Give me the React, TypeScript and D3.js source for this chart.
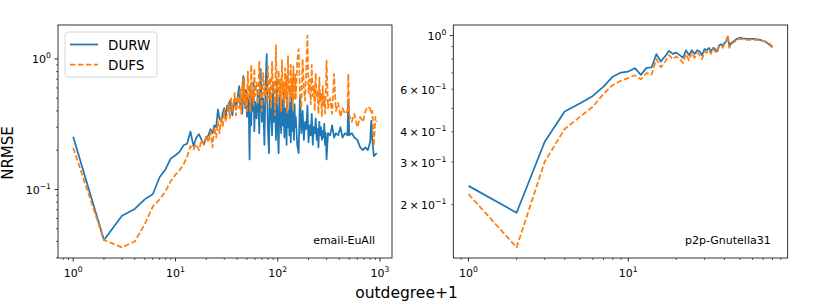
import React from "react";
import * as d3 from "d3";

const W = 814;
const H = 305;
const BLUE = "#1f77b4";
const ORANGE = "#ff7f0e";
const FONT = "'DejaVu Sans', sans-serif";
const LW = 1.75;

// email-EuAll: outdegree+1 and NRMSE per method
const emailDeg = [
  1, 2, 3, 4, 5, 6, 7, 8, 9, 10, 11, 12, 13, 14, 15, 16, 17, 18, 19, 20,
  21, 22, 23, 24, 25, 26, 27, 28, 29, 30, 31, 32, 33, 34, 35, 36, 37, 38, 39, 40,
  41, 42, 43, 44, 45, 46, 47, 48, 49, 50, 51, 52, 53, 54, 55, 56, 57, 58, 59, 60,
  62, 64, 66, 68, 70, 72, 74, 76, 78, 80, 82, 84, 86, 88, 90, 92, 94, 96, 98, 100,
  102, 104, 106, 108, 110, 112, 114, 116, 118, 120, 122, 124, 126, 128, 130, 132, 134, 136, 138, 140,
  142, 144, 146, 148, 150, 155, 160, 165, 170, 175, 180, 185, 190, 195, 200,
  205, 210, 215, 220, 225, 230, 235, 240, 245, 250, 255, 260, 265, 270, 275, 280, 285, 290, 295, 300,
  310, 325, 340, 355, 370, 390, 410, 430, 455, 480, 490, 500, 530, 560, 600, 640, 680, 720, 760, 800,
  820, 840, 870, 900, 930,
];
const emailDURW = [
  0.254, 0.041, 0.063, 0.071, 0.084, 0.092, 0.124, 0.143, 0.173, 0.183,
  0.195, 0.218, 0.224, 0.278, 0.215, 0.25, 0.265, 0.24, 0.222, 0.25,
  0.26, 0.29, 0.27, 0.31, 0.3, 0.41, 0.345, 0.33, 0.39, 0.42,
  0.36, 0.44, 0.4, 0.48, 0.42, 0.37, 0.45, 0.5, 0.41, 0.47,
  0.55, 0.62, 0.44, 0.5, 0.38, 0.74, 0.48, 0.42, 0.58, 0.36,
  0.52, 0.45, 0.17, 0.62, 0.31, 0.55, 0.4, 0.66, 0.28, 0.47,
  0.35, 0.58, 0.27, 0.84, 0.33, 0.5, 0.22, 0.61, 1.09, 0.3,
  0.19, 0.55, 0.38, 0.26, 0.62, 0.33, 0.45, 0.24, 0.7, 0.29,
  0.19, 0.52, 0.36, 0.27, 0.48, 0.31, 0.58, 0.25, 0.42, 0.33,
  0.22, 0.55, 0.3, 0.4, 0.26, 0.47, 0.23, 0.35, 0.6, 0.28,
  0.38, 0.24, 0.45, 0.3, 0.36,
  0.22, 0.19, 0.52, 0.27, 0.4, 0.24, 0.33, 0.29, 0.44, 0.23,
  0.31, 0.26, 0.38, 0.22, 0.3, 0.27, 0.35, 0.24, 0.29, 0.21,
  0.33, 0.26, 0.3, 0.24, 0.28, 0.25, 0.32, 0.22, 0.27, 0.17,
  0.27, 0.26, 0.31, 0.25, 0.27, 0.26, 0.3, 0.25, 0.27, 0.26,
  0.49, 0.26, 0.27, 0.25, 0.24, 0.21, 0.2, 0.21, 0.2, 0.23,
  0.335, 0.24, 0.18, 0.185, 0.19,
];
const emailDUFS = [
  0.209, 0.041, 0.036, 0.04, 0.054, 0.074, 0.084, 0.097, 0.116, 0.13,
  0.141, 0.156, 0.178, 0.215, 0.203, 0.222, 0.2, 0.24, 0.22, 0.26,
  0.23, 0.28, 0.21, 0.3, 0.25, 0.33, 0.27, 0.36, 0.3, 0.41,
  0.33, 0.38, 0.46, 0.35, 0.5, 0.4, 0.44, 0.55, 0.37, 0.48,
  0.52, 0.42, 0.6, 0.38, 0.66, 0.47, 0.72, 0.43, 0.55, 0.4,
  0.8, 0.48, 0.62, 0.39, 0.9, 0.5, 0.58, 0.44, 0.85, 0.52,
  0.66, 0.45, 0.95, 0.55, 0.4, 0.78, 0.52, 0.63, 0.46, 0.88,
  0.5, 0.72, 0.42, 0.95, 0.55, 0.68, 0.37, 1.27, 0.6, 0.45,
  0.82, 0.52, 0.7, 0.4, 0.98, 0.56, 0.65, 0.43, 0.85, 0.5,
  0.75, 0.38, 1.05, 0.55, 0.62, 0.47, 0.9, 0.52, 0.7, 0.41,
  0.88, 0.58, 0.48, 0.76, 0.5,
  0.96, 1.19, 0.55, 0.42, 1.0, 0.6, 0.48, 0.85, 1.51, 0.55,
  0.7, 0.45, 0.9, 0.52, 0.63, 0.4, 0.78, 0.5, 0.58, 0.38,
  0.72, 0.47, 0.55, 0.36, 0.62, 0.44, 0.52, 0.38, 0.58, 0.97,
  0.42, 0.5, 0.38, 0.77, 0.4, 0.46, 0.36, 0.42, 0.38, 0.4,
  0.77, 0.37, 0.33, 0.38, 0.3, 0.36, 0.33, 0.4, 0.43, 0.42,
  0.38, 0.4, 0.215, 0.36, 0.33,
];

// p2p-Gnutella31
const p2pDeg = [
  1, 2, 3, 4, 5, 6, 7, 8, 9, 10, 11, 12, 13, 14, 15, 16, 17, 18, 19, 20,
  21, 22, 23, 24, 25, 26, 27, 28, 29, 30, 31, 32, 33, 34, 35, 36, 37, 38, 39, 40,
  41, 42, 43, 44, 46, 48, 50, 52, 55, 58, 61, 64, 67, 70, 73, 76, 80,
];
const p2pDURW = [
  0.239, 0.185, 0.364, 0.485, 0.525, 0.563, 0.615, 0.676, 0.703, 0.71,
  0.733, 0.688, 0.735, 0.738, 0.838, 0.781, 0.82, 0.865, 0.84, 0.85,
  0.83, 0.81, 0.87, 0.83, 0.87, 0.84, 0.87, 0.86, 0.83, 0.88,
  0.87, 0.89, 0.86, 0.89, 0.88, 0.86, 0.91, 0.92, 0.91, 0.93,
  0.95, 0.99, 0.9, 0.93, 0.95, 0.97, 0.98, 0.975, 0.97, 0.97,
  0.97, 0.965, 0.96, 0.95, 0.94, 0.92, 0.895,
];
const p2pDUFS = [
  0.221, 0.133, 0.301, 0.411, 0.462, 0.508, 0.574, 0.625, 0.65, 0.667,
  0.685, 0.66, 0.7, 0.69, 0.8, 0.74, 0.78, 0.83, 0.8, 0.82,
  0.8, 0.77, 0.84, 0.79, 0.85, 0.81, 0.85, 0.83, 0.8, 0.86,
  0.85, 0.87, 0.84, 0.88, 0.86, 0.85, 0.9, 0.91, 0.89, 0.92,
  0.94, 1.0, 0.89, 0.92, 0.94, 0.96, 0.97, 0.965, 0.96, 0.96,
  0.96, 0.96, 0.955, 0.95, 0.945, 0.93, 0.9,
];

const seriesNames = ["DURW", "DUFS"];

// log domain with matplotlib-like 5% margins
function logDomain(vals: number[]): [number, number] {
  const lo = Math.log10(d3.min(vals) as number);
  const hi = Math.log10(d3.max(vals) as number);
  const m = (hi - lo) * 0.05;
  return [10 ** (lo - m), 10 ** (hi + m)];
}

function logTicks(domain: [number, number]) {
  const out: { v: number; k: number; e: number }[] = [];
  const e0 = Math.floor(Math.log10(domain[0]));
  const e1 = Math.ceil(Math.log10(domain[1]));
  for (let e = e0; e <= e1; e++) {
    for (let k = 1; k <= 9; k++) {
      const v = k * 10 ** e;
      if (v >= domain[0] * 0.9999 && v <= domain[1] * 1.0001) out.push({ v, k, e });
    }
  }
  return out;
}

function expText(e: number) {
  return e < 0 ? "\u2212" + Math.abs(e) : String(e);
}

type PanelProps = {
  box: { x0: number; x1: number; y0: number; y1: number };
  deg: number[];
  a: number[];
  b: number[];
  name: string;
  minorLabels: number[];
  legend?: boolean;
};

function Panel({ box, deg, a, b, name, minorLabels, legend }: PanelProps) {
  const xd = logDomain(deg);
  const yd = logDomain([...a, ...b]);
  const x = d3.scaleLog().domain(xd).range([box.x0, box.x1]);
  const y = d3.scaleLog().domain(yd).range([box.y1, box.y0]);
  const line = d3
    .line<number>()
    .x((_, i) => x(deg[i]))
    .y((d) => y(d));

  const xt = logTicks(xd);
  const yt = logTicks(yd);

  return (
    <g fontFamily={FONT}>
      <path d={line(a) || ""} fill="none" stroke={BLUE} strokeWidth={LW} strokeLinejoin="round" />
      <path
        d={line(b) || ""}
        fill="none"
        stroke={ORANGE}
        strokeWidth={LW}
        strokeDasharray="5.55,2.4"
        strokeLinejoin="round"
      />
      <rect
        x={box.x0}
        y={box.y0}
        width={box.x1 - box.x0}
        height={box.y1 - box.y0}
        fill="none"
        stroke="#000"
        strokeWidth={0.8}
      />
      {xt.map((t, i) => {
        const px = x(t.v);
        const major = t.k === 1;
        return (
          <g key={"x" + i}>
            <line x1={px} x2={px} y1={box.y1} y2={box.y1 + (major ? 3.5 : 2)} stroke="#000" strokeWidth={major ? 0.8 : 0.6} />
            {major && (
              <text x={px} y={box.y1 + 19} fontSize={11} textAnchor="middle">
                10
                <tspan fontSize={7.7} dy={-5}>
                  {expText(t.e)}
                </tspan>
              </text>
            )}
          </g>
        );
      })}
      {yt.map((t, i) => {
        const py = y(t.v);
        const major = t.k === 1;
        const labelled = major || minorLabels.includes(t.k);
        return (
          <g key={"y" + i}>
            <line x1={box.x0 - (major ? 3.5 : 2)} x2={box.x0} y1={py} y2={py} stroke="#000" strokeWidth={major ? 0.8 : 0.6} />
            {labelled && (
              <text x={box.x0 - 7} y={py + 4.5} fontSize={11} textAnchor="end">
                {major ? "10" : `${t.k}\u2009\u00d7\u200910`}
                <tspan fontSize={7.7} dy={-5}>
                  {expText(t.e)}
                </tspan>
              </text>
            )}
          </g>
        );
      })}
      <text x={box.x1 - 17} y={box.y1 - 14} fontSize={11} textAnchor="end">
        {name}
      </text>
      {legend && (
        <g>
          <rect x={box.x0 + 7} y={box.y0 + 7} width={92} height={45} rx={3} fill="#fff" fillOpacity={0.8} stroke="#cccccc" strokeWidth={0.8} />
          {seriesNames.map((s, i) => (
            <g key={s}>
              <line
                x1={box.x0 + 12}
                x2={box.x0 + 40}
                y1={box.y0 + 19.5 + i * 20}
                y2={box.y0 + 19.5 + i * 20}
                stroke={i === 0 ? BLUE : ORANGE}
                strokeWidth={LW}
                strokeDasharray={i === 0 ? undefined : "5.55,2.4"}
              />
              <text x={box.x0 + 50} y={box.y0 + 24.5 + i * 20} fontSize={13.5}>
                {s}
              </text>
            </g>
          ))}
        </g>
      )}
    </g>
  );
}

export default function App() {
  return (
    <svg
      width={W}
      height={H}
      style={{ position: "absolute", left: 0, top: 0, background: "#fff" }}
    >
      <rect width={W} height={H} fill="#fff" />
      <Panel
        box={{ x0: 58, x1: 392, y0: 25, y1: 258 }}
        deg={emailDeg}
        a={emailDURW}
        b={emailDUFS}
        name="email-EuAll"
        minorLabels={[]}
        legend
      />
      <Panel
        box={{ x0: 453.3, x1: 787.7, y0: 25, y1: 258 }}
        deg={p2pDeg}
        a={p2pDURW}
        b={p2pDUFS}
        name="p2p-Gnutella31"
        minorLabels={[2, 3, 4, 6]}
      />
      <text x={12.5} y={153} transform="rotate(-90 12.5 153)" fontFamily={FONT} fontSize={15} textAnchor="middle">
        NRMSE
      </text>
      <text x={406.5} y={298} fontFamily={FONT} fontSize={15.5} textAnchor="middle">
        outdegree+1
      </text>
    </svg>
  );
}
